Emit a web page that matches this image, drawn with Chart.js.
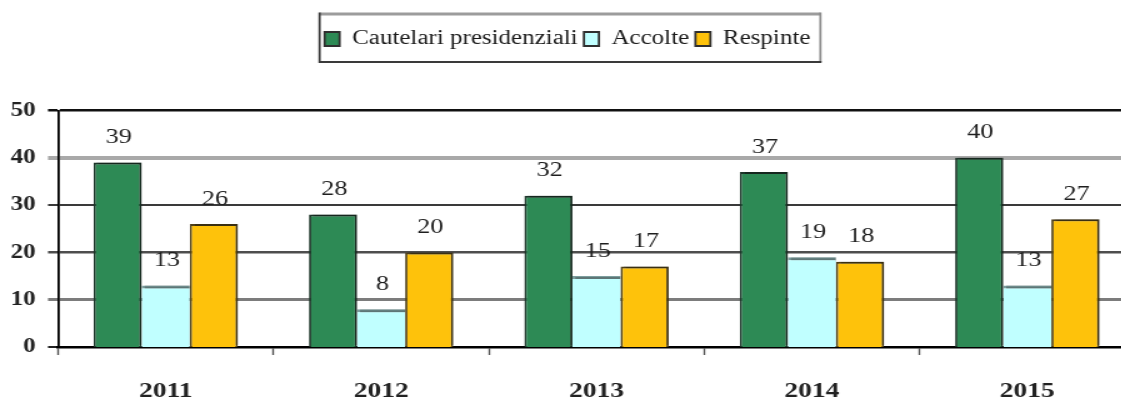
<!DOCTYPE html>
<html>
<head>
<meta charset="utf-8">
<script src="https://cdn.jsdelivr.net/npm/chart.js@4/dist/chart.umd.min.js"></script>
<style>
  html, body { margin: 0; padding: 0; background: #ffffff; overflow: hidden; width: 1121px; height: 405px; }
  #wrap { position: absolute; left: 0; top: 0; width: 912px; height: 405px; transform: scaleX(1.25); transform-origin: 0 0; }
  canvas { display: block; }
</style>
</head>
<body>
<div id="wrap"><canvas id="c"></canvas></div>
<script>
const categories = ['2011', '2012', '2013', '2014', '2015'];
const seriesNames = ['Cautelari presidenziali', 'Accolte', 'Respinte'];
const cautelari = [39, 28, 32, 37, 40];
const accolte = [13, 8, 15, 19, 13];
const respinte = [26, 20, 17, 18, 27];
const yTicks = [0, 10, 20, 30, 40, 50];

const SERIF = "'Liberation Serif', 'DejaVu Serif', serif";

const gridStyle = {
  0: { color: 'rgba(0,0,0,0)', width: 0 },
  10: { color: '#7c7c7c', width: 3 },
  20: { color: '#4e4e4e', width: 2.5 },
  30: { color: '#3a3a3a', width: 2 },
  40: { color: '#a9a9a9', width: 4 },
  50: { color: '#111111', width: 2.5 }
};

const shadowPlugin = {
  id: 'barShadow',
  beforeDatasetsDraw(chart) {
    const ctx = chart.ctx;
    ctx.save();
    ctx.shadowColor = 'rgba(0,0,0,0.25)';
    ctx.shadowOffsetX = 2.4;
    ctx.shadowOffsetY = -2;
    ctx.shadowBlur = 0;
  },
  afterDatasetsDraw(chart) {
    chart.ctx.restore();
  }
};

const valueLabels = {
  id: 'valueLabels',
  afterDatasetsDraw(chart) {
    const ctx = chart.ctx;
    ctx.save();
    ctx.font = "21px " + SERIF;
    ctx.fillStyle = '#1e1e1e';
    ctx.textAlign = 'center';
    ctx.textBaseline = 'middle';
    chart.data.datasets.forEach((ds, di) => {
      const meta = chart.getDatasetMeta(di);
      meta.data.forEach((el, i) => {
        ctx.fillText(String(ds.data[i]), el.x + 1, el.y - 25);
      });
    });
    ctx.restore();
  }
};

const legendFrame = {
  id: 'legendFrame',
  afterDraw(chart) {
    const lg = chart.legend;
    if (!lg || !lg.legendHitBoxes || !lg.legendHitBoxes.length) return;
    const hb = lg.legendHitBoxes;
    const first = hb[0], last = hb[hb.length - 1];
    const cy = first.top + first.height / 2;
    const l = first.left - 4;
    const r = last.left + last.width + 8;
    const t = cy - 25;
    const b = cy + 23;
    const ctx = chart.ctx;
    ctx.save();
    ctx.lineCap = 'butt';
    ctx.strokeStyle = '#9c9c9c'; ctx.lineWidth = 3;
    ctx.beginPath(); ctx.moveTo(l, t); ctx.lineTo(r, t); ctx.stroke();
    ctx.strokeStyle = '#8c8c8c'; ctx.lineWidth = 1.8;
    ctx.beginPath(); ctx.moveTo(r, t - 1.5); ctx.lineTo(r, b); ctx.stroke();
    ctx.strokeStyle = '#3a3a3a'; ctx.lineWidth = 1.8;
    ctx.beginPath(); ctx.moveTo(l, t - 1.5); ctx.lineTo(l, b); ctx.lineTo(r + 0.9, b); ctx.stroke();
    ctx.restore();
  }
};

new Chart(document.getElementById('c'), {
  type: 'bar',
  data: {
    labels: categories,
    datasets: [
      { label: seriesNames[0], data: cautelari, backgroundColor: '#2d8a55', borderColor: '#1c3529', borderWidth: { top: 2, left: 1.8, right: 1.8, bottom: 0 }, borderSkipped: false },
      { label: seriesNames[1], data: accolte, backgroundColor: '#c0ffff', borderColor: '#7c9e9e', borderWidth: { top: 3, left: 0, right: 0, bottom: 0 }, borderSkipped: false },
      { label: seriesNames[2], data: respinte, backgroundColor: '#fec20b', borderColor: '#4e3f18', borderWidth: { top: 2, left: 1.8, right: 1.8, bottom: 0 }, borderSkipped: false }
    ]
  },
  options: {
    responsive: true,
    maintainAspectRatio: false,
    animation: false,
    events: [],
    layout: { padding: { top: 24, right: 4, left: 0, bottom: 0 } },
    datasets: { bar: { categoryPercentage: 0.67, barPercentage: 1.0 } },
    plugins: {
      tooltip: { enabled: false },
      title: {
        display: true, text: '', weight: 1,
        font: { size: 1, lineHeight: 1 },
        padding: { top: 0, bottom: 50.5 }
      },
      legend: {
        display: true,
        position: 'top',
        labels: {
          font: { family: SERIF, size: 20 },
          color: '#1a1a1a',
          boxWidth: 12,
          boxHeight: 14,
          padding: 5,
          generateLabels(chart) {
            return Chart.defaults.plugins.legend.labels.generateLabels(chart).map(it => Object.assign(it, { strokeStyle: '#2f2f2f', lineWidth: 1.8 }));
          }
        }
      }
    },
    scales: {
      x: {
        offset: true,
        grid: { display: true, offset: true, drawOnChartArea: false, drawTicks: true, tickLength: 8, tickColor: '#555555', tickWidth: 1.4 },
        border: { display: true, color: '#000000', width: 2.5 },
        ticks: { font: { family: SERIF, size: 22, weight: 'bold' }, color: '#222222', padding: 23 },
        afterFit(scale) { scale.height = 58; }
      },
      y: {
        min: 0, max: 50,
        afterBuildTicks(scale) { scale.ticks = yTicks.map(v => ({ value: v })); },
        grid: {
          drawOnChartArea: true, drawTicks: true, tickLength: 8,
          color: (c) => (gridStyle[c.tick.value] || gridStyle[0]).color,
          lineWidth: (c) => (gridStyle[c.tick.value] || gridStyle[0]).width,
          tickColor: (c) => c.tick.value === 0 ? '#222222' : (gridStyle[c.tick.value] || gridStyle[0]).color,
          tickWidth: (c) => c.tick.value === 0 ? 2 : (gridStyle[c.tick.value] || gridStyle[0]).width
        },
        border: { display: true, color: '#000000', width: 1.8 },
        ticks: { font: { family: SERIF, size: 20, weight: 'bold' }, color: '#222222', padding: 10 },
        afterFit(scale) { scale.width = 46.4; }
      }
    }
  },
  plugins: [shadowPlugin, valueLabels, legendFrame]
});
</script>
</body>
</html>
